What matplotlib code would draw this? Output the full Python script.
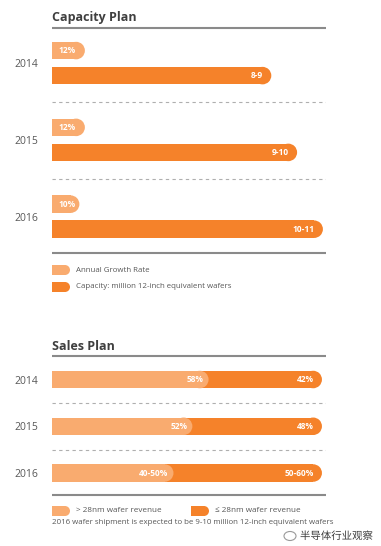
import matplotlib
matplotlib.use('Agg')
import matplotlib.pyplot as plt
from matplotlib.patches import Ellipse, Rectangle
import matplotlib.patheffects as pe

# ---------------- data ----------------
years = ['2014', '2015', '2016']
growth_pct = [12, 12, 10]
growth_labels = ['12%', '12%', '10%']
capacity_low = [8, 9, 10]
capacity_high = [9, 10, 11]
capacity_labels = ['8-9', '9-10', '10-11']
sales_gt28 = [58, 52, 45]
sales_le28 = [42, 48, 55]
sales_gt28_labels = ['58%', '52%', '40-50%']
sales_le28_labels = ['42%', '48%', '50-60%']
legend_capacity = ['Annual Growth Rate', 'Capacity: million 12-inch equivalent wafers']
legend_sales = ['> 28nm wafer revenue', '\u2264 28nm wafer revenue']
footnote = '2016 wafer shipment is expected to be 9-10 million 12-inch equivalent wafers'
watermark = '半导体行业观察'

# ---------------- style ----------------
LIGHT = '#F9AB6F'
DARK = '#F5822A'
RULE = '#8A8A8A'
DASH = '#AFAFAF'
TXT = '#585858'
FONT = ['Open Sans', 'DejaVu Sans']
plt.rcParams['font.family'] = FONT

W, H = 381, 546
fig = plt.figure(figsize=(W / 100, H / 100), dpi=100)


def px_axes(left, top, right, bottom, **kw):
    ax = fig.add_axes([left / W, 1 - bottom / H, (right - left) / W, (bottom - top) / H], **kw)
    ax.patch.set_alpha(0)
    return ax


def pill(ax, y, x0, x1, h, color, z=2):
    """Bar with square left end and semicircular right end."""
    bb = ax.get_position()
    ax_w_px = bb.width * W
    ax_h_px = bb.height * H
    xl = ax.get_xlim(); yl = ax.get_ylim()
    ppx = ax_w_px / abs(xl[1] - xl[0])
    ppy = ax_h_px / abs(yl[1] - yl[0])
    r = (h * ppy / 2) / ppx
    ax.barh(y, x1 - x0 - r, left=x0, height=h, color=color, linewidth=0, zorder=z)
    ax.add_patch(Ellipse((x1 - r, y), 2 * r, h, facecolor=color, linewidth=0, zorder=z))
    return r


# overlay axes in pixel coordinates for titles / rules / legends
ov = fig.add_axes([0, 0, 1, 1])
ov.set_xlim(0, W); ov.set_ylim(H, 0); ov.axis('off')

L, R = 52, 326

# ---------- Capacity Plan ----------
ov.text(L, 17, 'Capacity Plan', fontsize=9, fontweight='bold', color='#3F3F3F', va='center', ha='left')
ov.plot([L, R], [28, 28], color=RULE, lw=1.5, solid_capstyle='butt')
ov.plot([L, R], [253, 253], color=RULE, lw=1.5, solid_capstyle='butt')

axc = px_axes(L, 28, R, 253)
axc.set_xlim(0, 10.62)
axc.set_ylim(2.31, -0.62)
axg = axc.twiny()
axg.set_xlim(0, 100)
axg.set_ylim(2.31, -0.62)
for a in (axc, axg):
    for s in a.spines.values():
        s.set_visible(False)
    a.set_xticks([])
axg.set_yticks([])

BH = 0.228
GOFF = -0.326
for i in range(len(years)):
    mid = (capacity_low[i] + capacity_high[i]) / 2
    pill(axc, i, 0, mid, BH, DARK)
    axc.text(mid - 0.33, i, capacity_labels[i], color='white', fontsize=6, fontweight='bold',
             ha='right', va='center', zorder=5)
    pill(axg, i + GOFF, 0, growth_pct[i], BH, LIGHT)
    axg.text(2.2, i + GOFF, growth_labels[i], color='white', fontsize=6, fontweight='bold',
             ha='left', va='center', zorder=5)
for i in range(len(years) - 1):
    axc.axhline(i + 0.34, color=DASH, lw=0.8, ls=(0, (3, 3)))

axc.set_yticks([i + GOFF / 2 for i in range(len(years))])
axc.set_yticklabels(years, fontsize=7.5, color=TXT)
axc.tick_params(axis='y', length=0, pad=10)

# capacity legend
for k, (lab, col) in enumerate(zip(legend_capacity, [LIGHT, DARK])):
    yc = 270 + k * 17
    ov.add_patch(Rectangle((L, yc - 5), 13, 10, facecolor=col, linewidth=0))
    ov.add_patch(Ellipse((L + 13, yc), 10, 10, facecolor=col, linewidth=0))
    ov.text(76, yc, lab, fontsize=5.7, color=TXT, va='center', ha='left')

# ---------- Sales Plan ----------
ov.text(L, 346, 'Sales Plan', fontsize=9, fontweight='bold', color='#3F3F3F', va='center', ha='left')
ov.plot([L, R], [356, 356], color=RULE, lw=1.5, solid_capstyle='butt')
ov.plot([L, R], [495, 495], color=RULE, lw=1.5, solid_capstyle='butt')

axs = px_axes(L, 356, R, 495)
axs.set_xlim(0, 101.5)
axs.set_ylim(2.47, -0.503)
for s in axs.spines.values():
    s.set_visible(False)
axs.set_xticks([])
SH = 0.374
for i in range(len(years)):
    total = sales_gt28[i] + sales_le28[i]
    pill(axs, i, 0, total, SH, DARK, z=2)
    pill(axs, i, 0, sales_gt28[i], SH, LIGHT, z=3)
    axs.text(sales_gt28[i] - 1.8, i, sales_gt28_labels[i], color='white', fontsize=6,
             fontweight='bold', ha='right', va='center', zorder=5)
    axs.text(total - 3.0, i, sales_le28_labels[i], color='white', fontsize=6,
             fontweight='bold', ha='right', va='center', zorder=5)
for i in range(len(years) - 1):
    axs.axhline(i + 0.5, color=DASH, lw=0.8, ls=(0, (3, 3)))
axs.set_yticks(range(len(years)))
axs.set_yticklabels(years, fontsize=7.5, color=TXT)
axs.tick_params(axis='y', length=0, pad=10)

# sales legend
for k, (lab, col, x0) in enumerate(zip(legend_sales, [LIGHT, DARK], [52, 191])):
    yc = 511
    ov.add_patch(Rectangle((x0, yc - 5), 13, 10, facecolor=col, linewidth=0))
    ov.add_patch(Ellipse((x0 + 13, yc), 10, 10, facecolor=col, linewidth=0))
    ov.text(x0 + 24, yc, lab, fontsize=5.9, color=TXT, va='center', ha='left')

ov.text(L, 523, footnote, fontsize=5.7, color=TXT, va='center', ha='left')

# watermark
ov.add_patch(Ellipse((290, 536), 12, 9, facecolor='none', edgecolor='#9A9A9A', lw=0.8, zorder=7))
ov.text(300, 536, watermark, fontsize=7.5, color='#3A3A3A', va='center', ha='left',
        family=['Noto Sans CJK SC', 'DejaVu Sans'], zorder=8,
        path_effects=[pe.withStroke(linewidth=1.5, foreground='white')])

fig.savefig('out.png', dpi=100)
